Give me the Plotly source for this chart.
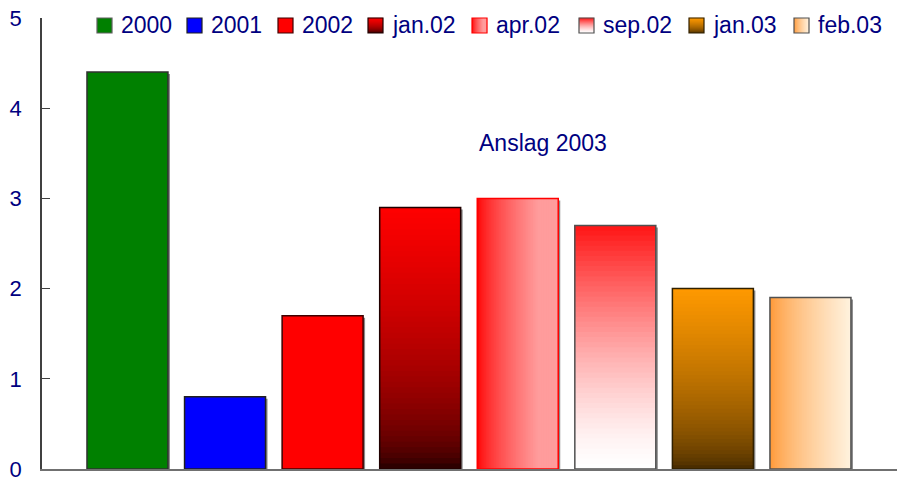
import plotly.graph_objects as go

# ---------------- data ----------------
categories = ["2000", "2001", "2002", "jan.02", "apr.02", "sep.02", "jan.03", "feb.03"]
values = [4.4, 0.8, 1.7, 2.9, 3.0, 2.7, 2.0, 1.9]
y_ticks = [0, 1, 2, 3, 4, 5]
note_text = "Anslag 2003"

# ---------------- styles ----------------
NAVY = "#000080"
FONT = "Arial, Liberation Sans, sans-serif"
BAR_W = 0.83
N = 48
X_RANGE = [-0.876, 7.887]

solid_colors = {"2000": "#008000", "2001": "#0000FF", "2002": "#FF0000"}
# (direction, start colour (bottom/left), end colour (top/right), curve)
gradients = {
    "jan.02": ("v", (18, 0, 0), (255, 0, 0), lambda f: f ** 0.48),
    "apr.02": ("h", (255, 0, 0), (255, 156, 156), lambda f: min(1.0, f / 0.75) ** 0.7),
    "sep.02": ("v", (255, 255, 255), (255, 20, 20), lambda f: f ** 1.4),
    "jan.03": ("v", (62, 38, 0), (255, 153, 0), lambda f: f ** 0.6),
    "feb.03": ("h", (255, 150, 50), (255, 242, 222), lambda f: f ** 0.7),
}
borders = {"2000": "#303030", "2001": "#202020", "2002": "#400000", "jan.02": "#200000",
           "apr.02": "#FF0000", "sep.02": "#505050", "jan.03": "#302000", "feb.03": "#505050"}


def lerp(c0, c1, t):
    return "rgb(%d,%d,%d)" % tuple(round(a + (b - a) * t) for a, b in zip(c0, c1))


# figure geometry (body margin removed via post_script)
FIG_W, FIG_H = 900, 478
L, R, T, B = 42, 897, 18, 469
UNIT_X = (R - L) / (X_RANGE[1] - X_RANGE[0])
UNIT_Y = (B - T) / 5.0

fig = go.Figure()
xs = list(range(len(categories)))

# shadow
SH = 2.0
fig.add_trace(go.Bar(
    x=xs, y=[v - SH / UNIT_Y for v in values],
    offset=-BAR_W / 2 + SH / UNIT_X, width=BAR_W,
    marker=dict(color="#8a8a8a", line=dict(width=0)),
    showlegend=False, hoverinfo="skip"))

# solid bars
sx = [i for i, c in enumerate(categories) if c in solid_colors]
fig.add_trace(go.Bar(
    x=sx, y=[values[i] for i in sx], width=BAR_W,
    marker=dict(color=[solid_colors[categories[i]] for i in sx], line=dict(width=0)),
    showlegend=False, hoverinfo="skip"))

# vertical gradient bars (layered from bottom, each layer reaching the top)
vx = [i for i, c in enumerate(categories) if c in gradients and gradients[c][0] == "v"]
for k in range(N):
    f0 = k / N
    fc = (k + 0.5) / N
    base = [values[i] * f0 for i in vx]
    fig.add_trace(go.Bar(
        x=vx, y=[values[i] - b for i, b in zip(vx, base)], base=base, width=BAR_W,
        marker=dict(color=[lerp(gradients[categories[i]][1], gradients[categories[i]][2],
                                gradients[categories[i]][3](fc)) for i in vx],
                    line=dict(width=0)),
        showlegend=False, hoverinfo="skip"))

# horizontal gradient bars (layered from left, each layer reaching the right edge)
hx = [i for i, c in enumerate(categories) if c in gradients and gradients[c][0] == "h"]
for k in range(N):
    f0 = k / N
    fc = (k + 0.5) / N
    fig.add_trace(go.Bar(
        x=hx, y=[values[i] for i in hx],
        offset=[-BAR_W / 2 + BAR_W * f0 for _ in hx],
        width=[BAR_W * (1 - f0) for _ in hx],
        marker=dict(color=[lerp(gradients[categories[i]][1], gradients[categories[i]][2],
                                gradients[categories[i]][3](fc)) for i in hx],
                    line=dict(width=0)),
        showlegend=False, hoverinfo="skip"))

# outlines
fig.add_trace(go.Bar(
    x=xs, y=values, width=BAR_W,
    marker=dict(color="rgba(0,0,0,0)",
                line=dict(color=[borders[c] for c in categories], width=1.5)),
    showlegend=False, hovertemplate="%{customdata}: %{y}<extra></extra>",
    customdata=categories))


# ---------------- custom legend ----------------
def px(x):
    return (x - L) / (R - L)


def py(y):
    return (B - y) / (B - T)


legend_left = [97, 187, 278, 368, 472, 579, 689, 794]
SW = 15
SY0, SY1 = 18, 33
shapes = []
annotations = []
for c, lx in zip(categories, legend_left):
    if c in solid_colors:
        shapes.append(dict(type="rect", xref="paper", yref="paper", x0=px(lx), x1=px(lx + SW),
                           y0=py(SY1), y1=py(SY0), fillcolor=solid_colors[c], line=dict(width=0)))
    else:
        d, c0, c1, curve = gradients[c]
        steps = SW
        for k in range(steps):
            col = lerp(c0, c1, curve((k + 0.5) / steps))
            if d == "v":
                shapes.append(dict(type="rect", xref="paper", yref="paper",
                                   x0=px(lx), x1=px(lx + SW),
                                   y0=py(SY1 - k), y1=py(SY1 - k - 1.2),
                                   fillcolor=col, line=dict(width=0)))
            else:
                shapes.append(dict(type="rect", xref="paper", yref="paper",
                                   x0=px(lx + k), x1=px(lx + k + 1.2),
                                   y0=py(SY1), y1=py(SY0),
                                   fillcolor=col, line=dict(width=0)))
    shapes.append(dict(type="rect", xref="paper", yref="paper", x0=px(lx), x1=px(lx + SW),
                       y0=py(SY1), y1=py(SY0), fillcolor="rgba(0,0,0,0)",
                       line=dict(color=borders[c] if c != "2000" else "#606060", width=1.2)))
    annotations.append(dict(text=c, xref="paper", yref="paper", x=px(lx + SW + 7), y=py(25.5),
                            xanchor="left", yanchor="middle", showarrow=False,
                            font=dict(family=FONT, size=23, color=NAVY)))

annotations.append(dict(text=note_text, xref="x", yref="y", x=4.26, y=3.61,
                        xanchor="center", yanchor="middle", showarrow=False,
                        font=dict(family=FONT, size=23, color=NAVY)))

fig.update_layout(
    width=FIG_W, height=FIG_H,
    margin=dict(l=L, r=FIG_W - R, t=T, b=FIG_H - B, pad=0),
    paper_bgcolor="white", plot_bgcolor="white",
    barmode="overlay",
    showlegend=False,
    shapes=shapes,
    annotations=annotations,
    xaxis=dict(range=X_RANGE, showgrid=False, zeroline=False, showline=True,
               linecolor="#707070", linewidth=2,
               tickmode="array", tickvals=[X_RANGE[1]], ticks="inside", ticklen=9,
               tickcolor="#303030", tickwidth=1.5, showticklabels=False, fixedrange=True),
    yaxis=dict(range=[0, 5], showgrid=False, zeroline=False, showline=True,
               linecolor="#404040", linewidth=1.5,
               tickmode="array", tickvals=y_ticks, ticktext=[str(t) for t in y_ticks],
               ticks="inside", ticklen=8, tickcolor="#404040", tickwidth=1.2,
               tickfont=dict(family=FONT, size=22, color=NAVY),
               ticklabeloverflow="allow",
               ticklabelstandoff=14, automargin=False, fixedrange=True),
)

fig.write_html("out.html",
               config={"displayModeBar": False},
               post_script="document.body.style.margin='0';document.body.style.overflow='hidden';")
